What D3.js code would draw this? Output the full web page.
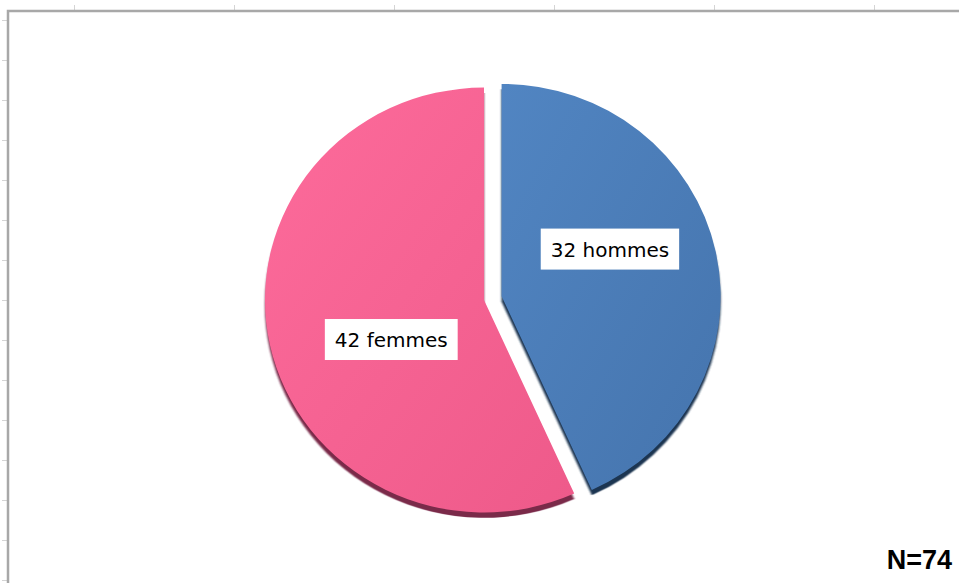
<!DOCTYPE html>
<html>
<head>
<meta charset="utf-8">
<script src="https://cdn.jsdelivr.net/npm/d3@7"></script>
<style>
  body { margin: 0; background: #fff; }
  svg { display: block; }
</style>
</head>
<body>
<div id="vis"><svg></svg></div>
<script>
// data
var categories = ["hommes", "femmes"];
var values = [32, 42];
var colorsLight = ["#5185c2", "#fd6b9b"];
var colorsDark = ["#4574ad", "#ee5a8a"];
var shadowColors = ["#1f3651", "#7a2a4a"];

var width = 959, height = 583;

var svg = d3.select("#vis").select("svg")
    .attr("width", width)
    .attr("height", height);

// spreadsheet background: column and row ticks + chart border
var colTicks = d3.range(74, width, 160);
var rowTicks = d3.range(20, height, 40);

svg.selectAll("colTick")
  .data(colTicks)
  .enter()
  .append("line")
    .attr("x1", function(d) { return d + 0.5; })
    .attr("x2", function(d) { return d + 0.5; })
    .attr("y1", 5)
    .attr("y2", 10)
    .attr("stroke", "#d4d4d4");

svg.selectAll("rowTick")
  .data(rowTicks)
  .enter()
  .append("line")
    .attr("x1", 2)
    .attr("x2", 7)
    .attr("y1", function(d) { return d + 0.5; })
    .attr("y2", function(d) { return d + 0.5; })
    .attr("stroke", "#d4d4d4");

svg.append("path")
  .attr("d", "M8," + height + " V11 H" + width)
  .attr("fill", "none")
  .attr("stroke", "#a8a8a8")
  .attr("stroke-width", 2.5);

// gradients + shadow blur
var defs = svg.append("defs");
categories.forEach(function(c, i) {
  var g = defs.append("linearGradient")
    .attr("id", "grad" + i)
    .attr("x1", "0%").attr("y1", "0%")
    .attr("x2", "100%").attr("y2", "100%");
  g.append("stop").attr("offset", "0%").attr("stop-color", colorsLight[i]);
  g.append("stop").attr("offset", "100%").attr("stop-color", colorsDark[i]);
});
defs.append("filter")
  .attr("id", "blur")
  .append("feGaussianBlur")
  .attr("stdDeviation", 0.8);

// pie
var cx = 484, cy = 300, radius = 219, tilt = 0.97, explode = 18;

var pie = d3.pie().sort(null).value(function(d) { return d; });
var arcs = pie(values);

var arc = d3.arc().innerRadius(0).outerRadius(radius);

var g = svg.append("g")
  .attr("transform", "translate(" + cx + "," + cy + ") scale(1," + tilt + ")");

function offset(d, i) {
  if (i !== 0) return [0, 0];
  var a = (d.startAngle + d.endAngle) / 2;
  return [Math.sin(a) * explode, -Math.cos(a) * explode];
}

// shadows
g.selectAll("shadow")
  .data(arcs)
  .enter()
  .append("path")
    .attr("d", arc)
    .attr("transform", function(d, i) {
      var o = offset(d, i);
      return "translate(" + o[0] + "," + (o[1] + 5.5) + ")";
    })
    .attr("fill", function(d, i) { return shadowColors[i]; })
    .attr("filter", "url(#blur)");

// slices
g.selectAll("slice")
  .data(arcs)
  .enter()
  .append("path")
    .attr("d", arc)
    .attr("transform", function(d, i) {
      var o = offset(d, i);
      return "translate(" + o[0] + "," + o[1] + ")";
    })
    .attr("fill", function(d, i) { return "url(#grad" + i + ")"; });

// labels
var labelRadius = [118, 101];
var labelShift = -0.195; // excel puts the labels a bit counter-clockwise

var labels = svg.selectAll("myLabels")
  .data(arcs)
  .enter()
  .append("g")
    .attr("transform", function(d, i) {
      var o = offset(d, i);
      var a = (d.startAngle + d.endAngle) / 2 + labelShift;
      var x = cx + o[0] + Math.sin(a) * labelRadius[i];
      var y = cy + o[1] * tilt - Math.cos(a) * labelRadius[i];
      return "translate(" + x + "," + y + ")";
    });

labels.append("text")
  .attr("text-anchor", "middle")
  .attr("dy", "0.35em")
  .style("font-family", "DejaVu Sans, sans-serif")
  .style("font-size", "20px")
  .style("fill", "#000")
  .text(function(d, i) { return d.value + " " + categories[i]; });

labels.each(function() {
  var t = d3.select(this).select("text");
  var b = t.node().getBBox();
  d3.select(this).insert("rect", "text")
    .attr("x", b.x - 10)
    .attr("y", -21)
    .attr("width", b.width + 20)
    .attr("height", 41)
    .attr("fill", "#fff");
});

// total
svg.append("text")
  .attr("x", 952)
  .attr("y", 569)
  .attr("text-anchor", "end")
  .style("font-family", "Liberation Sans, Arial, sans-serif")
  .style("font-weight", "bold")
  .style("font-size", "27px")
  .style("fill", "#000")
  .text("N=" + d3.sum(values));
</script>
</body>
</html>
